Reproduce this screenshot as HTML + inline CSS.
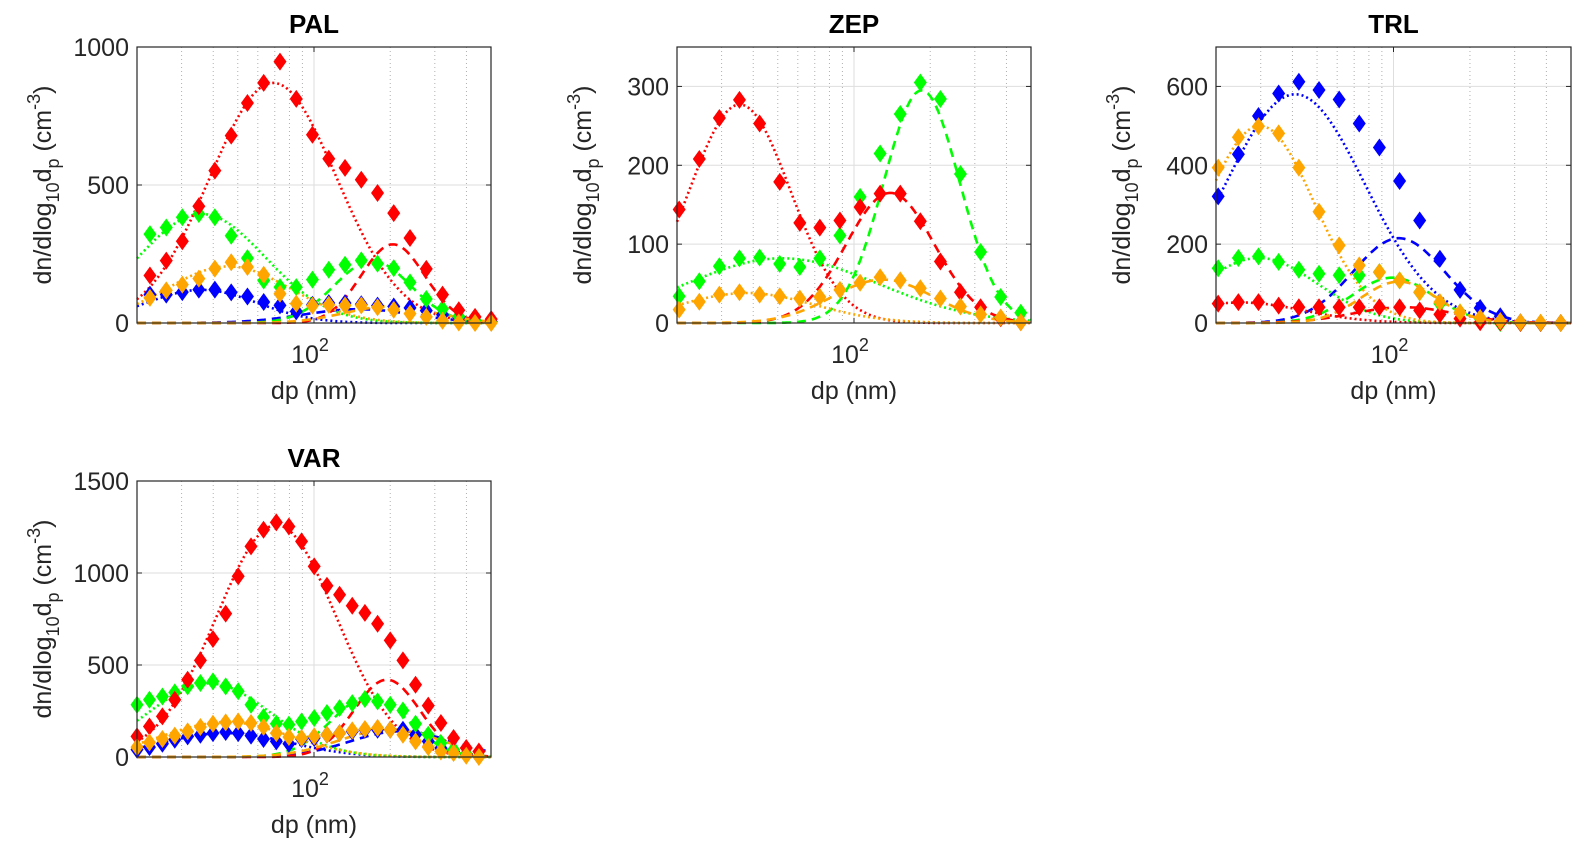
<!DOCTYPE html>
<html><head><meta charset="utf-8"><style>
html,body{margin:0;padding:0;background:#fff;width:1585px;height:859px;overflow:hidden}
svg{display:block;font-family:"Liberation Sans",Arial,sans-serif}
</style></head><body>
<svg id="fig" width="1585" height="859" viewBox="0 0 1585 859" xmlns="http://www.w3.org/2000/svg"></svg>
<script>
// ---- data ----
const palDp=[22.5,26.1,30.2,35.1,40.6,47.1,54.6,63.3,73.4,85.1,98.6,114.4,132.6,153.7,178.2,206.5,239.4,277.6,321.8,373.1,432.5,501];
const palRed=[172,226,296,423,552,679,797,870,947,812,682,595,562,519,471,398,308,196,103,46,22,14];
const palGreen=[322,346,383,395,383,316,235,154,130,130,157,193,211,227,215,199,147,87,51,24,9,2];
const palBlue=[103,103,112,121,121,111,96,76,64,42,66,72,72,68,63,60,55,45,30,20,10,5];
const palOrange=[91,118,139,161,197,220,203,175,106,70,63,66,64,64,57,48,34,22,8,2,0,0];
const palModes=[["blue",":",120,36,0.22],["blue","--",50,150,0.22],["green",":",395,36,0.25],["green","--",225,170,0.15],["red",":",870,69,0.25],["red","--",285,205,0.125],["orange",":",205,46,0.245],["orange","--",60,200,0.18]];

const zepDp=[20.4,24.5,29.4,35.3,42.4,50.9,61.1,73.3,88.0,105.7,126.8,152.3,182.8,219.4,263.3,316.2,379.6,455.6];
const zepRed=[144,208,260,283,253,179,127,121,130,147,164,164,129,78,39,20,6,1];
const zepGreen=[34,53,72,82,83,75,71,82,111,160,215,265,305,284,189,90,33,13];
const zepOrange=[17,27,36,39,36,34,31,33,42,51,58,54,44,31,21,11,7,1];
const zepModes=[["green",":",82,52,0.38],["green","--",295,185,0.15],["red",":",277,35.4,0.2],["red","--",165,139,0.174],["orange",":",38,37.7,0.268],["orange","--",55,130,0.2]];

const trlDp=[20.4,24.5,29.4,35.3,42.4,50.9,61.1,73.3,88.0,105.7,126.8,152.3,182.8,219.4,263.3,316.2,379.6,455.6];
const trlBlue=[321,428,525,582,612,591,567,506,445,360,260,163,84,38,17,2,0,0];
const trlOrange=[394,471,499,481,394,282,197,146,129,108,78,53,27,13,5,2,1,0];
const trlGreen=[139,165,169,155,135,125,121,121,129,108,78,49,27,11,0,0,0,0];
const trlRed=[49,53,53,44,40,40,40,40,40,40,32,22,11,2,2,0,0,0];
const trlModes=[["blue",":",580,41,0.275],["blue","--",215,105,0.18],["green",":",165,29.5,0.23],["green","--",115,99,0.16],["red",":",52,25,0.25],["red","--",40,110,0.2],["orange",":",500,29.8,0.215],["orange","--",105,105,0.15]];

const varDp=[20,22.4,25.2,28.2,31.7,35.6,39.9,44.8,50.2,56.4,63.2,71.0,79.6,89.3,100.2,112.5,126.2,141.6,158.9,178.3,200,224.5,251.8,282.6,317.1,355.8,399.2,447.9];
const varRed=[112,166,221,311,420,525,641,779,982,1145,1235,1275,1253,1172,1036,931,882,822,783,724,634,525,393,279,185,103,49,30];
const varGreen=[284,311,329,351,384,402,411,384,357,284,217,181,176,193,212,239,266,293,315,302,284,253,181,121,76,40,18,3];
const varBlue=[40,54,72,94,112,121,130,136,130,116,98,85,72,98,103,121,130,139,148,148,148,148,121,85,49,30,12,3];
const varOrange=[54,79,98,116,139,163,181,188,193,185,163,130,109,103,112,121,130,145,152,158,148,121,85,54,30,22,7,0];
const varModes=[["blue",":",130,45,0.25],["blue","--",140,220,0.2],["green",":",400,38.6,0.24],["green","--",330,166,0.15],["red",":",1260,71,0.236],["red","--",420,194,0.13],["orange",":",190,45,0.25],["orange","--",150,200,0.2]];

const yTicksPal=[0,500,1000], yTicksZep=[0,100,200,300], yTicksTrl=[0,200,400,600], yTicksVar=[0,500,1000,1500];

const COL={red:"#ff0000",green:"#00ff00",blue:"#0000ff",orange:"#ffa500"};
const NS="http://www.w3.org/2000/svg";
const svg=document.getElementById("fig");
function mk(tag,attrs,parent){const e=document.createElementNS(NS,tag);for(const k in attrs)e.setAttribute(k,attrs[k]);(parent||svg).appendChild(e);return e;}

function panel(p){
  const g=mk("g",{});
  
  
  const L=p.x0,R=p.x1,T=p.y0,B=p.y1;
  const lx0=Math.log10(20),lx1=Math.log10(500);
  const X=d=>L+(Math.log10(d)-lx0)/(lx1-lx0)*(R-L);
  const Y=v=>B-v/p.ymax*(B-T);
  [30,40,50,60,70,80,90,200,300,400].forEach(d=>{
    const l=mk("line",{x1:X(d),x2:X(d),y1:T,y2:B,stroke:"#b0b0b0","stroke-width":1,"stroke-dasharray":"1,3"},g);
    
    
  });
  const mg=mk("line",{x1:X(100),x2:X(100),y1:T,y2:B,stroke:"#dedede","stroke-width":1},g);
  
  
  p.ticks.forEach(v=>{
    if(v>0&&v<p.ymax){const l=mk("line",{x1:L,x2:R,y1:Y(v),y2:Y(v),stroke:"#dedede","stroke-width":1},g);
    
    }
    const t=mk("text",{x:L-8,y:Y(v)+9,"text-anchor":"end","font-size":25,fill:"#262626"},g);
    t.textContent=v;
    
    
    mk("line",{x1:L,x2:L+5,y1:Y(v),y2:Y(v),stroke:"#262626"},g);
    mk("line",{x1:R,x2:R-5,y1:Y(v),y2:Y(v),stroke:"#262626"},g);
  });
  p.modes.forEach(m=>{
    const [c,st,A,Dg,s]=m;
    let d="";
    for(let i=0;i<=240;i++){const lx=lx0+(lx1-lx0)*i/240;const D=Math.pow(10,lx);
      const v=A*Math.exp(-Math.pow(lx-Math.log10(Dg),2)/(2*s*s));
      d+=(i?"L":"M")+X(D).toFixed(1)+","+Y(v).toFixed(1);}
    const pa=mk("path",{d:d,fill:"none",stroke:COL[c],"stroke-width":2.6,"stroke-dasharray":st==":"?"2,3":"9,6"},g);
    
    
  });
  p.series.forEach(sr=>{
    const [c,vals]=sr;
    vals.forEach((v,i)=>{
      const cx=X(p.dp[i]),cy=Y(v);
      const pg=mk("polygon",{points:`${cx},${cy-9} ${cx+6.5},${cy} ${cx},${cy+9} ${cx-6.5},${cy}`,fill:COL[c]},g);
      
      
    });
  });
  const fr=mk("rect",{x:L,y:T,width:R-L,height:B-T,fill:"none",stroke:"#262626","stroke-width":1.2},g);
  
  
  mk("line",{x1:X(100),x2:X(100),y1:B,y2:B-5,stroke:"#262626"},g);
  mk("line",{x1:X(100),x2:X(100),y1:T,y2:T+5,stroke:"#262626"},g);
  const tt=mk("text",{x:(L+R)/2,y:T-14,"text-anchor":"middle","font-size":26,"font-weight":"bold",fill:"#000"},g);
  tt.textContent=p.title;
  
  
  const xt=mk("text",{x:X(100)-4,y:B+40,"text-anchor":"middle","font-size":25,fill:"#262626"},g);
  xt.innerHTML='10<tspan dy="-12" font-size="18">2</tspan>';
  
  
  const xl=mk("text",{x:(L+R)/2,y:B+76,"text-anchor":"middle","font-size":25,fill:"#262626"},g);
  xl.textContent="dp (nm)";
  
  
  const yl=mk("text",{transform:`translate(${L-86},${(T+B)/2}) rotate(-90)`,"text-anchor":"middle","font-size":25,fill:"#262626"},g);
  yl.innerHTML='dn/dlog<tspan dy="8" font-size="18">10</tspan><tspan dy="-8">d</tspan><tspan dy="8" font-size="18">p</tspan><tspan dy="-8"> (cm</tspan><tspan dy="-11" font-size="18">-3</tspan><tspan dy="11">)</tspan>';
  
  
}
panel({key:"pal",title:"PAL",x0:137,x1:491,y0:47,y1:323,ymax:1000,ticks:yTicksPal,dp:palDp,modes:palModes,
  series:[["blue",palBlue],["green",palGreen],["red",palRed],["orange",palOrange]]});
panel({key:"zep",title:"ZEP",x0:677,x1:1031,y0:47,y1:323,ymax:350,ticks:yTicksZep,dp:zepDp,modes:zepModes,
  series:[["green",zepGreen],["red",zepRed],["orange",zepOrange]]});
panel({key:"trl",title:"TRL",x0:1216,x1:1571,y0:47,y1:323,ymax:700,ticks:yTicksTrl,dp:trlDp,modes:trlModes,
  series:[["blue",trlBlue],["green",trlGreen],["red",trlRed],["orange",trlOrange]]});
panel({key:"var",title:"VAR",x0:137,x1:491,y0:481,y1:757,ymax:1500,ticks:yTicksVar,dp:varDp,modes:varModes,
  series:[["blue",varBlue],["green",varGreen],["red",varRed],["orange",varOrange]]});
</script>
</body></html>
